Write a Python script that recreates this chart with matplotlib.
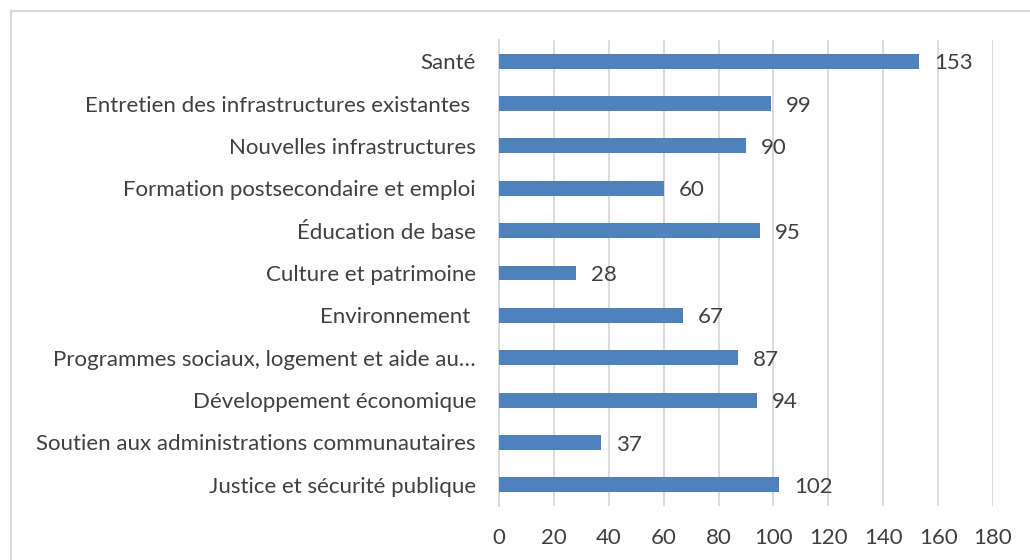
import matplotlib
matplotlib.use("Agg")
import matplotlib.pyplot as plt
from matplotlib.lines import Line2D

categories = [
    "Santé",
    "Entretien des infrastructures existantes ",
    "Nouvelles infrastructures",
    "Formation postsecondaire et emploi",
    "Éducation de base",
    "Culture et patrimoine",
    "Environnement ",
    "Programmes sociaux, logement et aide au…",
    "Développement économique",
    "Soutien aux administrations communautaires",
    "Justice et sécurité publique",
]
values = [153, 99, 90, 60, 95, 28, 67, 87, 94, 37, 102]
xticks = [0, 20, 40, 60, 80, 100, 120, 140, 160, 180]

plt.rcParams['font.family'] = ['Lato', 'DejaVu Sans']
text_color = "#404040"
bar_color = "#4F81BD"
grid_color = "#D9D9D9"
fs = 16

fig = plt.figure(figsize=(10.3, 5.6), dpi=100)
ax = fig.add_axes([499/1030, 1-506/560, (993-499)/1030, (506-40)/560])

ypos = list(range(len(categories)))
ax.barh(ypos, values, height=0.35, color=bar_color, zorder=3)
ax.set_ylim(len(categories)-0.5, -0.5)
ax.set_xlim(0, 180)
ax.set_xticks(xticks)
ax.set_xticklabels([str(t) for t in xticks])
ax.set_yticks(ypos)
ax.set_yticklabels(categories)

for y, v in zip(ypos, values):
    ax.text(v + 5.5, y + 0.05, str(v), va="center", ha="left",
            fontsize=fs, color=text_color)

ax.grid(axis="x", color=grid_color, linewidth=1.3, zorder=0)
for s in ["top", "right", "bottom"]:
    ax.spines[s].set_visible(False)
ax.spines["left"].set_color(grid_color)
ax.spines["left"].set_linewidth(1.3)
ax.tick_params(axis="both", length=0, colors=text_color, labelsize=fs)
ax.tick_params(axis="y", pad=16.5)
ax.tick_params(axis="x", pad=16)

# outer border (left and top only visible)
fig.add_artist(Line2D([10.5/1030, 10.5/1030], [0, 1-10.5/560], color=grid_color, lw=1.5, transform=fig.transFigure))
fig.add_artist(Line2D([10.5/1030, 1], [1-10.5/560, 1-10.5/560], color=grid_color, lw=1.5, transform=fig.transFigure))

fig.savefig("out.png", dpi=100)
